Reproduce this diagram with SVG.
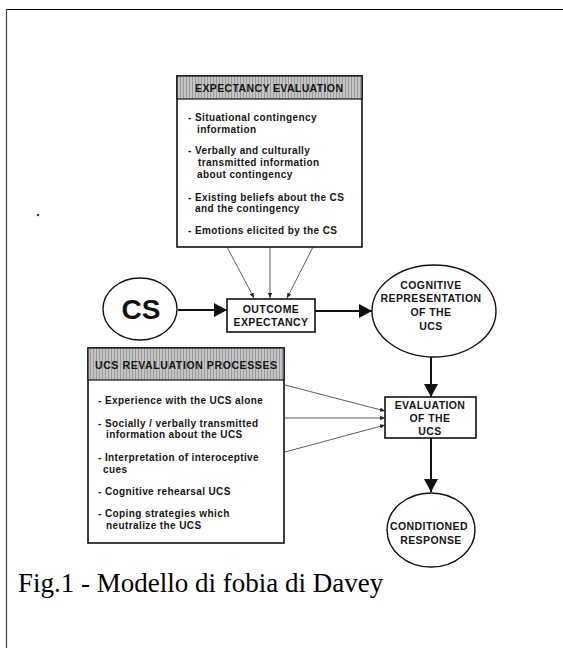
<svg xmlns="http://www.w3.org/2000/svg" width="563" height="648" viewBox="0 0 563 648">
<style>
.box{fill:#fff;stroke:#111;stroke-width:1.6}
.hdr{stroke:#111;stroke-width:1.2}
.ell{fill:#fff;stroke:#111;stroke-width:1.4}
.t{font-family:"Liberation Sans",Arial,sans-serif;font-weight:bold;font-size:10px;letter-spacing:0.4px;fill:#151515}
.h{font-family:"Liberation Sans",Arial,sans-serif;font-weight:bold;font-size:10.5px;fill:#151515}
.n{font-family:"Liberation Sans",Arial,sans-serif;font-weight:bold;font-size:10.5px;letter-spacing:0.4px;fill:#151515;text-anchor:middle}
.main{stroke:#111;stroke-width:2;fill:none}
.thin{stroke:#333;stroke-width:0.8;fill:none}
.cap{font-family:"Liberation Serif","Times New Roman",serif;font-size:27px;fill:#000}
</style>
<defs>
<pattern id="stripes" width="3" height="4" patternUnits="userSpaceOnUse">
<rect width="3" height="4" fill="#c4c4c4"/>
<rect x="0" width="1" height="4" fill="#9a9a9a"/>
</pattern>
<marker id="big" markerUnits="userSpaceOnUse" markerWidth="14" markerHeight="14" refX="13" refY="7" orient="auto">
<path d="M0,0 L13,7 L0,14 Z" fill="#111"/>
</marker>
<marker id="small" markerUnits="userSpaceOnUse" markerWidth="6" markerHeight="6" refX="5" refY="3" orient="auto">
<path d="M0,0.8 L5,3 L0,5.2 Z" fill="#222"/>
</marker>
</defs>
<rect width="563" height="648" fill="#fff"/>
<g id="frame">
<line x1="6" y1="9.5" x2="563" y2="9.5" stroke="#000" stroke-width="1"/>
<line x1="6.5" y1="9" x2="6.5" y2="648" stroke="#444" stroke-width="1.2"/>
</g>
<circle cx="38" cy="215" r="1.2" fill="#333"/>

<g id="connectors">
<line class="thin" x1="227" y1="247" x2="254" y2="298" marker-end="url(#small)"/>
<line class="thin" x1="270" y1="247" x2="270" y2="298" marker-end="url(#small)"/>
<line class="thin" x1="313" y1="247" x2="287" y2="298" marker-end="url(#small)"/>
<line class="thin" x1="285" y1="385" x2="385" y2="411" marker-end="url(#small)"/>
<line class="thin" x1="285" y1="418" x2="385" y2="418" marker-end="url(#small)"/>
<line class="thin" x1="285" y1="452" x2="385" y2="425" marker-end="url(#small)"/>
<line class="main" x1="178" y1="310" x2="227" y2="310" marker-end="url(#big)"/>
<line class="main" x1="315" y1="311" x2="372" y2="311" marker-end="url(#big)"/>
<line class="main" x1="431" y1="357" x2="431" y2="397" marker-end="url(#big)"/>
<line class="main" x1="431" y1="438" x2="431" y2="492" marker-end="url(#big)"/>
</g>

<g id="expectancy-evaluation">
<rect class="box" x="177" y="76" width="185" height="171"/>
<rect class="hdr" x="177" y="76" width="185" height="23" fill="url(#stripes)"/>
<text class="h" x="195" y="92" textLength="148" lengthAdjust="spacing">EXPECTANCY EVALUATION</text>
<text class="t" x="188" y="121">- Situational contingency</text>
<text class="t" x="197" y="133">information</text>
<text class="t" x="188" y="154">- Verbally and culturally</text>
<text class="t" x="198" y="166">transmitted information</text>
<text class="t" x="197" y="178">about contingency</text>
<text class="t" x="188" y="201">- Existing beliefs about the CS</text>
<text class="t" x="195" y="212">and the contingency</text>
<text class="t" x="188" y="234">- Emotions elicited by the CS</text>
</g>

<g id="cs">
<ellipse class="ell" cx="140" cy="309" rx="37" ry="31"/>
<text x="141" y="319" text-anchor="middle" font-family="Liberation Sans,Arial,sans-serif" font-weight="bold" font-size="28" fill="#111">CS</text>
</g>

<g id="outcome-expectancy">
<rect class="box" x="227" y="299" width="88" height="33"/>
<text class="n" x="271" y="313">OUTCOME</text>
<text class="n" x="271" y="326">EXPECTANCY</text>
</g>

<g id="cognitive-representation">
<ellipse class="ell" cx="434" cy="311" rx="62" ry="46"/>
<text class="n" x="431" y="289">COGNITIVE</text>
<text class="n" x="431" y="302">REPRESENTATION</text>
<text class="n" x="431" y="316">OF THE</text>
<text class="n" x="431" y="330">UCS</text>
</g>

<g id="ucs-revaluation">
<rect class="box" x="88" y="348" width="196" height="195"/>
<rect class="hdr" x="88" y="348" width="196" height="32" fill="url(#stripes)"/>
<text class="h" x="95" y="369" textLength="182" lengthAdjust="spacing">UCS REVALUATION PROCESSES</text>
<text class="t" x="98" y="404">- Experience with the UCS alone</text>
<text class="t" x="98" y="427">- Socially / verbally transmitted</text>
<text class="t" x="106" y="438">information about the UCS</text>
<text class="t" x="98" y="461">- Interpretation of interoceptive</text>
<text class="t" x="103" y="473">cues</text>
<text class="t" x="98" y="495">- Cognitive rehearsal UCS</text>
<text class="t" x="98" y="517">- Coping strategies which</text>
<text class="t" x="106" y="529">neutralize the UCS</text>
</g>

<g id="evaluation-ucs">
<rect class="box" x="385" y="397" width="91" height="41"/>
<text class="n" x="430" y="409">EVALUATION</text>
<text class="n" x="430" y="422">OF THE</text>
<text class="n" x="430" y="435">UCS</text>
</g>

<g id="conditioned-response">
<ellipse class="ell" cx="431" cy="530" rx="44" ry="37"/>
<text class="n" x="429" y="530">CONDITIONED</text>
<text class="n" x="431" y="544">RESPONSE</text>
</g>

<text class="cap" x="18" y="592">Fig.1 - Modello di fobia di Davey</text>
</svg>
